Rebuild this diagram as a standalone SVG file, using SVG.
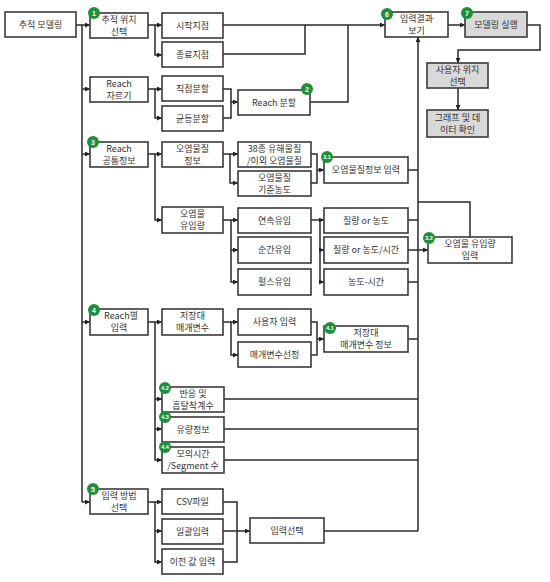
<svg xmlns="http://www.w3.org/2000/svg" width="550" height="582" viewBox="0 0 550 582">
<style>
.b{fill:#fff;stroke:#3a3a3a;stroke-width:1.6}
.g{fill:#d9d9d9;stroke:#3a3a3a;stroke-width:1.6}
.t{font-family:"Noto Sans CJK KR","Noto Sans",sans-serif;font-size:9px;fill:#333;text-anchor:middle}
.c{fill:none;stroke:#2a2a2a;stroke-width:1.5}
.a{marker-end:url(#ar)}
.bd{fill:#1f8f3c}
.bt{font-family:"Liberation Sans",sans-serif;font-size:7px;font-weight:bold;fill:#fff;text-anchor:middle}
.bs{font-size:5.5px}
</style>
<defs>
<marker id="ar" viewBox="0 0 6 6" refX="6" refY="3" markerWidth="5" markerHeight="5" markerUnits="userSpaceOnUse" orient="auto"><path d="M0,0 L6,3 L0,6 z" fill="#222"/></marker>
</defs>
<rect width="550" height="582" fill="#fff"/>
<g id="connectors">
<path class="c" d="M82,25 V502"/>
<path class="c a" d="M76,25 H90"/>
<path class="c a" d="M82,89 H90"/>
<path class="c a" d="M82,154 H90"/>
<path class="c a" d="M82,322 H90"/>
<path class="c a" d="M82,502 H90"/>
<path class="c a" d="M148,25 H162"/>
<path class="c a" d="M155,25 V55 H162"/>
<path class="c a" d="M223,25 H385"/>
<path class="c" d="M223,54 H305 V25"/>
<path class="c" d="M310,102 H348 V25"/>
<path class="c a" d="M148,89 H162"/>
<path class="c a" d="M155,89 V118 H162"/>
<path class="c" d="M223,89 H231 V118 H223"/>
<path class="c a" d="M231,102 H238"/>
<path class="c a" d="M448,25 H465"/>
<path class="c a" d="M527,25 H540 V50 H458 V63"/>
<path class="c a" d="M458,88 V110"/>
<path class="c a" d="M418,531 V37"/>
<path class="c a" d="M148,154 H162"/>
<path class="c a" d="M155,154 V220 H162"/>
<path class="c a" d="M223,154 H238"/>
<path class="c a" d="M230,154 V183 H238"/>
<path class="c" d="M311,154 H317 V183 H311"/>
<path class="c a" d="M317,170 H324"/>
<path class="c" d="M408,170 H418"/>
<path class="c a" d="M223,220 H238"/>
<path class="c a" d="M231,220 V282 H238"/>
<path class="c a" d="M231,250 H238"/>
<path class="c a" d="M311,220 H324"/>
<path class="c a" d="M320,220 V282 H324"/>
<path class="c a" d="M320,250 H324"/>
<path class="c" d="M408,220 H418"/>
<path class="c a" d="M408,250 H428"/>
<path class="c" d="M408,282 H418"/>
<path class="c" d="M470,237 V202 H418"/>
<path class="c a" d="M148,322 H162"/>
<path class="c a" d="M155,322 V460 H162"/>
<path class="c a" d="M155,399 H162"/>
<path class="c a" d="M155,429 H162"/>
<path class="c a" d="M223,322 H238"/>
<path class="c a" d="M231,322 V355 H238"/>
<path class="c" d="M311,322 H317 V355 H311"/>
<path class="c a" d="M317,339 H324"/>
<path class="c" d="M408,339 H418"/>
<path class="c" d="M224,399 H418"/>
<path class="c" d="M224,429 H418"/>
<path class="c" d="M224,460 H418"/>
<path class="c a" d="M148,502 H162"/>
<path class="c a" d="M155,502 V562 H162"/>
<path class="c a" d="M155,531 H162"/>
<path class="c" d="M223,502 H237 V562 H223"/>
<path class="c a" d="M223,531 H250"/>
<path class="c" d="M324,531 H418"/>
</g>
<g id="n0"><rect class="b" x="5" y="12" width="71" height="25"/><text class="t" x="40.5" y="28">추적 모델링</text></g>
<g id="n1"><rect class="b" x="90" y="13" width="58" height="25"/><text class="t" x="119" y="23">추적 위치<tspan x="119" dy="11.5">선택</tspan></text></g>
<g id="n1a"><rect class="b" x="162" y="13" width="61" height="25"/><text class="t" x="192.5" y="29">시작지점</text></g>
<g id="n1b"><rect class="b" x="162" y="42" width="61" height="25"/><text class="t" x="192.5" y="58">종료지점</text></g>
<g id="n2"><rect class="b" x="90" y="77" width="58" height="25"/><text class="t" x="119" y="87">Reach<tspan x="119" dy="11.5">자르기</tspan></text></g>
<g id="n2a"><rect class="b" x="162" y="76" width="61" height="25"/><text class="t" x="192.5" y="92">직접분할</text></g>
<g id="n2b"><rect class="b" x="162" y="106" width="61" height="25"/><text class="t" x="192.5" y="122">균등분할</text></g>
<g id="n2c"><rect class="b" x="238" y="90" width="72" height="25"/><text class="t" x="274" y="106">Reach 분할</text></g>
<g id="n6"><rect class="b" x="385" y="12" width="63" height="25"/><text class="t" x="416.5" y="22">입력결과<tspan x="416.5" dy="11.5">보기</tspan></text></g>
<g id="n7"><rect class="g" x="465" y="12" width="62" height="25"/><text class="t" x="496" y="28">모델링 실행</text></g>
<g id="n7a"><rect class="g" x="427" y="63" width="61" height="25"/><text class="t" x="457.5" y="73">사용자 위치<tspan x="457.5" dy="11.5">선택</tspan></text></g>
<g id="n7b"><rect class="g" x="427" y="110" width="61" height="27"/><text class="t" x="457.5" y="121">그래프 및 데<tspan x="457.5" dy="11.5">이터 확인</tspan></text></g>
<g id="n3"><rect class="b" x="90" y="142" width="58" height="25"/><text class="t" x="119" y="152">Reach<tspan x="119" dy="11.5">공통정보</tspan></text></g>
<g id="n3a"><rect class="b" x="162" y="142" width="61" height="25"/><text class="t" x="192.5" y="152">오염물질<tspan x="192.5" dy="11.5">정보</tspan></text></g>
<g id="n3a1"><rect class="b" x="238" y="142" width="73" height="25"/><text class="t" x="274.5" y="152">38종 유해물질<tspan x="274.5" dy="11.5">/이외 오염물질</tspan></text></g>
<g id="n3a2"><rect class="b" x="238" y="171" width="73" height="25"/><text class="t" x="274.5" y="181">오염물질<tspan x="274.5" dy="11.5">기준농도</tspan></text></g>
<g id="n31"><rect class="b" x="324" y="157" width="84" height="26"/><text class="t" x="366" y="173">오염물질정보 입력</text></g>
<g id="n3b"><rect class="b" x="162" y="207" width="61" height="26"/><text class="t" x="192.5" y="217">오염물<tspan x="192.5" dy="11.5">유입량</tspan></text></g>
<g id="n3b1"><rect class="b" x="238" y="208" width="73" height="25"/><text class="t" x="274.5" y="224">연속유입</text></g>
<g id="n3b2"><rect class="b" x="238" y="237" width="73" height="26"/><text class="t" x="274.5" y="253">순간유입</text></g>
<g id="n3b3"><rect class="b" x="238" y="269" width="73" height="26"/><text class="t" x="274.5" y="285">펄스유입</text></g>
<g id="n3c1"><rect class="b" x="324" y="208" width="84" height="25"/><text class="t" x="366" y="224">질량 or 농도</text></g>
<g id="n3c2"><rect class="b" x="324" y="237" width="84" height="26"/><text class="t" x="366" y="253">질량 or 농도/시간</text></g>
<g id="n3c3"><rect class="b" x="324" y="269" width="84" height="26"/><text class="t" x="366" y="285">농도-시간</text></g>
<g id="n32"><rect class="b" x="428" y="237" width="84" height="26"/><text class="t" x="470" y="247">오염물 유입량<tspan x="470" dy="11.5">입력</tspan></text></g>
<g id="n4"><rect class="b" x="90" y="309" width="58" height="26"/><text class="t" x="121" y="319">Reach별<tspan x="119" dy="11.5">입력</tspan></text></g>
<g id="n4a"><rect class="b" x="162" y="309" width="61" height="26"/><text class="t" x="192.5" y="319">저장대<tspan x="192.5" dy="11.5">매개변수</tspan></text></g>
<g id="n4a1"><rect class="b" x="238" y="309" width="73" height="26"/><text class="t" x="274.5" y="325">사용자 입력</text></g>
<g id="n4a2"><rect class="b" x="238" y="342" width="73" height="25"/><text class="t" x="274.5" y="358">매개변수선정</text></g>
<g id="n41"><rect class="b" x="324" y="326" width="84" height="26"/><text class="t" x="366" y="336">저장대<tspan x="366" dy="11.5">매개변수 정보</tspan></text></g>
<g id="n42"><rect class="b" x="162" y="387" width="62" height="25"/><text class="t" x="193" y="397">반응 및<tspan x="193" dy="11.5">흡탈착계수</tspan></text></g>
<g id="n43"><rect class="b" x="162" y="417" width="62" height="25"/><text class="t" x="193" y="433">유량정보</text></g>
<g id="n44"><rect class="b" x="162" y="447" width="62" height="26"/><text class="t" x="193" y="457">모의시간<tspan x="193" dy="11.5">/Segment 수</tspan></text></g>
<g id="n5"><rect class="b" x="90" y="489" width="58" height="25"/><text class="t" x="119" y="499">입력 방법<tspan x="119" dy="11.5">선택</tspan></text></g>
<g id="n5a"><rect class="b" x="162" y="489" width="61" height="25"/><text class="t" x="192.5" y="505">CSV파일</text></g>
<g id="n5b"><rect class="b" x="162" y="519" width="61" height="25"/><text class="t" x="192.5" y="535">일괄입력</text></g>
<g id="n5c"><rect class="b" x="162" y="549" width="61" height="25"/><text class="t" x="192.5" y="565">이전 값 입력</text></g>
<g id="n5d"><rect class="b" x="250" y="518" width="74" height="25"/><text class="t" x="287" y="534">입력선택</text></g>
<g id="badges">
<circle class="bd" cx="94" cy="13" r="6"/><text class="bt" x="94" y="15.5">1</text>
<circle class="bd" cx="307" cy="89" r="6"/><text class="bt" x="307" y="91.5">2</text>
<circle class="bd" cx="93" cy="142" r="6"/><text class="bt" x="93" y="144.5">3</text>
<circle class="bd" cx="94" cy="310" r="6"/><text class="bt" x="94" y="312.5">4</text>
<circle class="bd" cx="93" cy="489" r="6"/><text class="bt" x="93" y="491.5">5</text>
<circle class="bd" cx="387" cy="14" r="6"/><text class="bt" x="387" y="16.5">6</text>
<circle class="bd" cx="467" cy="13" r="6"/><text class="bt" x="467" y="15.5">7</text>
<circle class="bd" cx="327" cy="157" r="6"/><text class="bt bs" x="327" y="159">3.1</text>
<circle class="bd" cx="429" cy="238" r="6"/><text class="bt bs" x="429" y="240">3.2</text>
<circle class="bd" cx="330" cy="328" r="6"/><text class="bt bs" x="330" y="330">4.1</text>
<circle class="bd" cx="165" cy="388" r="6"/><text class="bt bs" x="165" y="390">4.2</text>
<circle class="bd" cx="165" cy="417" r="6"/><text class="bt bs" x="165" y="419">4.3</text>
<circle class="bd" cx="165" cy="447" r="6"/><text class="bt bs" x="165" y="449">4.4</text>
</g>
</svg>
